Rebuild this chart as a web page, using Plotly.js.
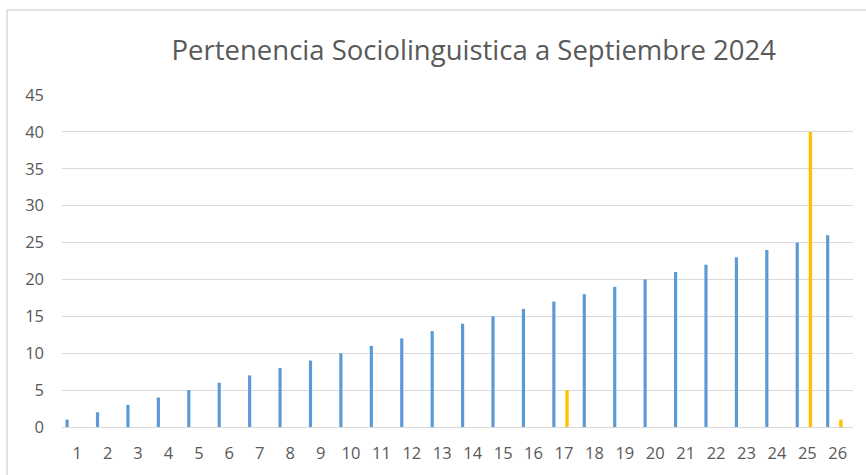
<!DOCTYPE html>
<html>
<head>
<meta charset="utf-8">
<script src="https://cdn.plot.ly/plotly-3.0.1.min.js"></script>
<style>html,body{margin:0;padding:0;background:#fff;}#chart{width:866px;height:475px;}</style>
</head>
<body>
<div id="chart"></div>
<script>
const categories = ["1","2","3","4","5","6","7","8","9","10","11","12","13","14","15","16","17","18","19","20","21","22","23","24","25","26"];
const seriesBlue = [1,2,3,4,5,6,7,8,9,10,11,12,13,14,15,16,17,18,19,20,21,22,23,24,25,26];
const seriesYellow = [null,null,null,null,null,null,null,null,null,null,null,null,null,null,null,null,5,null,null,null,null,null,null,null,40,1];
const yTicks = [0,5,10,15,20,25,30,35,40,45];
const chartTitle = "Pertenencia Sociolinguistica a Septiembre 2024";

const font = "Open Sans, Noto Sans, sans-serif";
const traces = [
  {type:'bar', x:categories, y:seriesBlue, marker:{color:'#5B9BD5'}, width:0.105, offset:-0.385, hoverinfo:'x+y'},
  {type:'bar', x:categories, y:seriesYellow, marker:{color:'#FFC000'}, width:0.11, offset:0.045, hoverinfo:'x+y'}
];
const layout = {
  width:866, height:475,
  margin:{l:62, r:13, t:95, b:48},
  paper_bgcolor:'#fff', plot_bgcolor:'#fff',
  showlegend:false,
  barmode:'overlay',
  font:{family:font, color:'#595959', size:16},
  title:{text:chartTitle, font:{family:font, size:27.5, color:'#595959'}, xref:'container', x:0.547, xanchor:'center', yref:'container', y:0.895, yanchor:'middle'},
  xaxis:{type:'category', tickvals:categories, ticktext:categories, showgrid:false, showline:true, linecolor:'#D9D9D9', linewidth:1, ticks:'', ticklabelstandoff:11, tickfont:{size:16.5, color:'#595959'}, zeroline:false, fixedrange:true},
  yaxis:{range:[0,45], tickvals:yTicks, showgrid:true, gridcolor:'#D9D9D9', gridwidth:1, showline:false, zeroline:false, ticks:'', ticklabelstandoff:17, tickfont:{size:16.5, color:'#595959'}, fixedrange:true},
  shapes:[
    {type:'line', xref:'paper', yref:'paper', x0:-0.0695, x1:1.03, y0:1.256, y1:1.256, line:{color:'#D9D9D9', width:1.5}},
    {type:'line', xref:'paper', yref:'paper', x0:-0.0695, x1:-0.0695, y0:1.256, y1:-0.2, line:{color:'#D9D9D9', width:1.5}}
  ]
};
Plotly.newPlot('chart', traces, layout, {displayModeBar:false, staticPlot:true});
</script>
</body>
</html>
